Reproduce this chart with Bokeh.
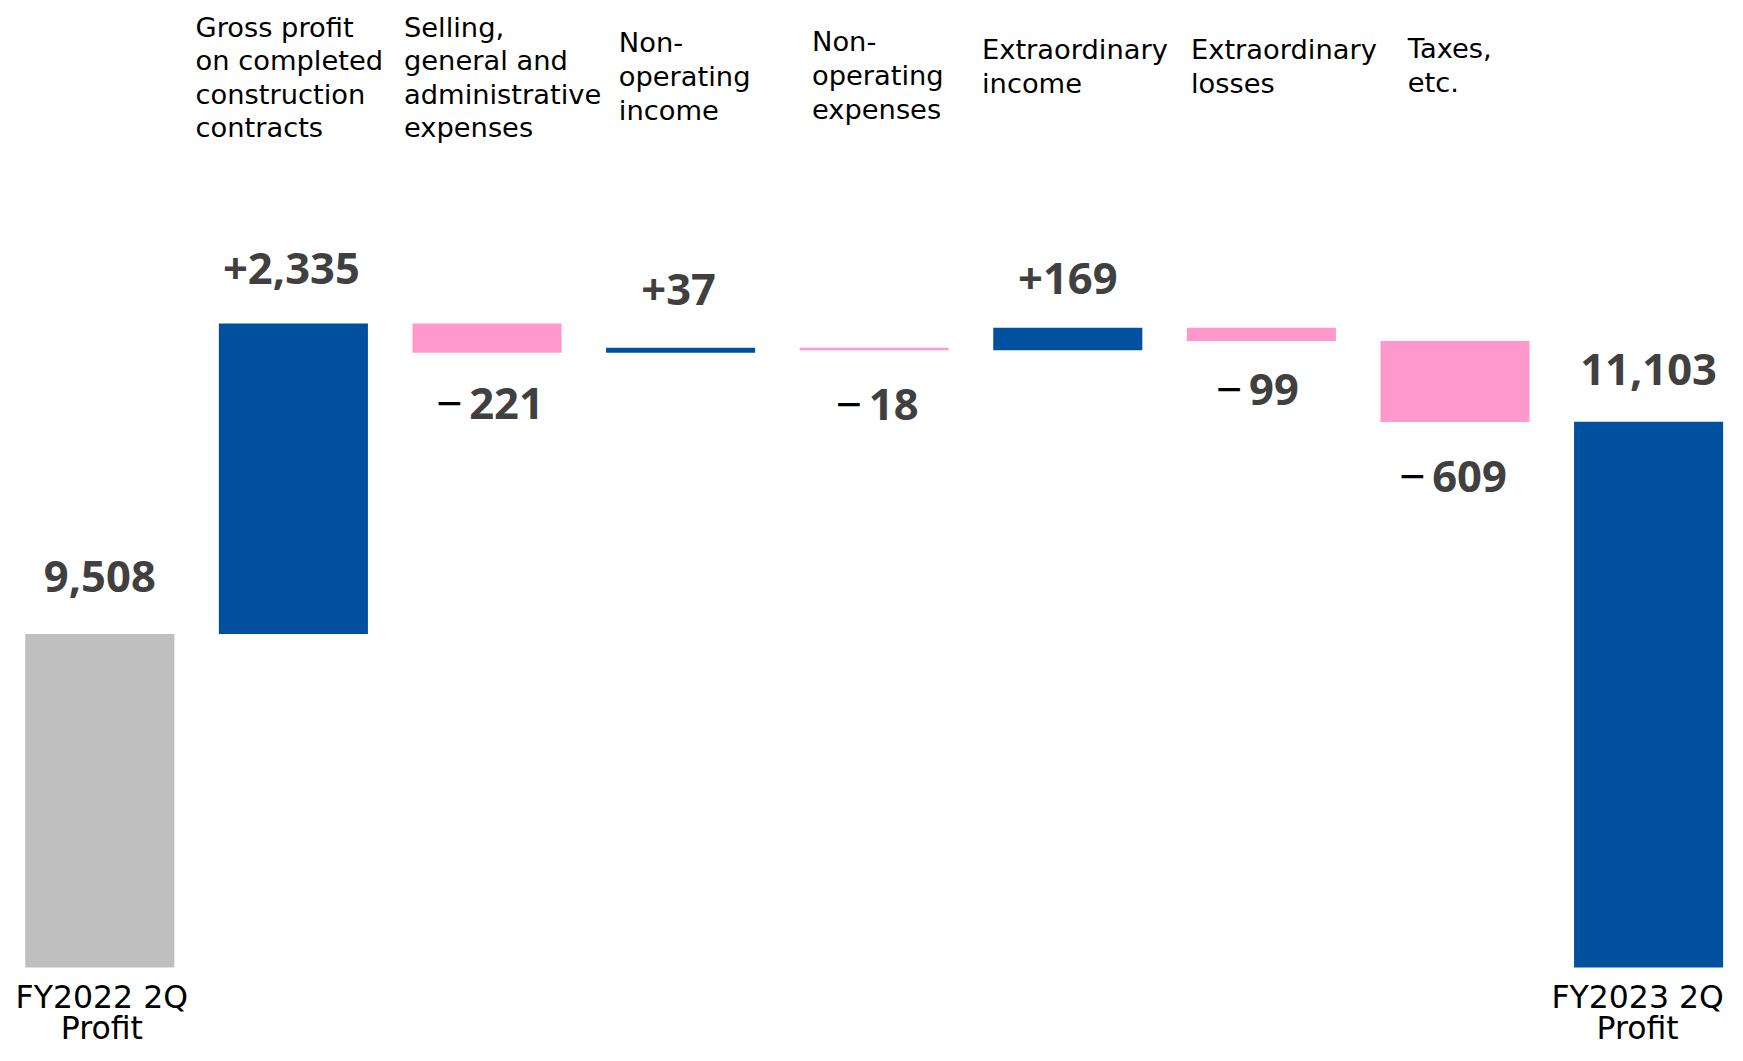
from bokeh.plotting import figure
from bokeh.models import ColumnDataSource, Range1d
from bokeh.embed import file_html
from bokeh.resources import INLINE
from bokeh.core.properties import value

# ---------------- data ----------------
categories = [
    "FY2022 2Q\nProfit",
    "Gross profit\non completed\nconstruction\ncontracts",
    "Selling,\ngeneral and\nadministrative\nexpenses",
    "Non-\noperating\nincome",
    "Non-\noperating\nexpenses",
    "Extraordinary\nincome",
    "Extraordinary\nlosses",
    "Taxes,\netc.",
    "FY2023 2Q\nProfit",
]
start_profit = 9508
changes = [2335, -221, 37, -18, 169, -99, -609]
end_profit = 11103
value_labels = ["9,508", "+2,335", "\u2212221", "+37", "\u221218", "+169", "\u221299", "\u2212609", "11,103"]
axis_floor = 7000

# ---------------- build waterfall ----------------
idx = list(range(len(categories)))
bottoms, tops, colors, label_y, is_neg = [], [], [], [], []
bottoms.append(axis_floor); tops.append(start_profit); colors.append("#BFBFBF")
label_y.append(start_profit); is_neg.append(False)
running = start_profit
for c in changes:
    lo, hi = min(running, running + c), max(running, running + c)
    bottoms.append(lo); tops.append(hi)
    colors.append("#0050A0" if c > 0 else "#FF99CC")
    label_y.append(hi if c > 0 else lo); is_neg.append(c < 0)
    running += c
bottoms.append(axis_floor); tops.append(end_profit); colors.append("#0050A0")
label_y.append(end_profit); is_neg.append(False)

W, H = 1727, 1045
X0, X1 = -0.5129, 8.4076
Y0, Y1 = 6413.5, 14270.7

p = figure(width=W, height=H, x_range=Range1d(X0, X1), y_range=Range1d(Y0, Y1),
           x_axis_type=None, y_axis_type=None, toolbar_location=None,
           output_backend="svg", min_border=0)
p.min_border_left = p.min_border_right = p.min_border_top = p.min_border_bottom = 0
p.outline_line_color = None
p.grid.visible = False
p.background_fill_color = "white"

bars = ColumnDataSource(dict(x=idx, bottom=bottoms, top=tops, color=colors))
p.vbar(x="x", width=0.77, bottom="bottom", top="top", fill_color="color",
       line_color=None, source=bars)

# value labels
VAL_FS = 43.5
DIGIT_W = 0.572 * VAL_FS
MINUS_W, MINUS_GAP = 23.0, 8.0
gaps = [59.5, 57, 48, 61, 52, 52, 46, 52.5, 55]
vx_off = [0, -2, 4, -2, 4, 0, -3, -1, 0]
v_off = [(g + 2.5) if n else (-g + 2.5) for g, n in zip(gaps, is_neg)]

pos = [i for i in idx if not is_neg[i]]
neg = [i for i in idx if is_neg[i]]
pos_src = ColumnDataSource(dict(x=[idx[i] for i in pos], y=[label_y[i] for i in pos],
                                text=[value_labels[i] for i in pos],
                                yo=[v_off[i] for i in pos], xo=[vx_off[i] for i in pos]))
p.text(x="x", y="y", text="text", x_offset="xo", y_offset="yo", source=pos_src,
       text_align="center", text_baseline="middle",
       text_font=value("Noto Sans"), text_font_style="bold",
       text_font_size=f"{VAL_FS}px", text_color="#404040")

neg_digits = [value_labels[i][1:] for i in neg]
neg_total = [MINUS_W + MINUS_GAP + len(d) * DIGIT_W for d in neg_digits]
neg_left = [vx_off[i] - t / 2 for i, t in zip(neg, neg_total)]
digit_src = ColumnDataSource(dict(x=[idx[i] for i in neg], y=[label_y[i] for i in neg],
                                  text=neg_digits, yo=[v_off[i] for i in neg],
                                  xo=[l + MINUS_W + MINUS_GAP for l in neg_left]))
p.text(x="x", y="y", text="text", x_offset="xo", y_offset="yo", source=digit_src,
       text_align="left", text_baseline="middle",
       text_font=value("Noto Sans"), text_font_style="bold",
       text_font_size=f"{VAL_FS}px", text_color="#404040")
minus_src = ColumnDataSource(dict(x=[idx[i] for i in neg], y=[label_y[i] for i in neg],
                                  text=[value_labels[i][0] for i in neg],
                                  yo=[v_off[i] for i in neg], xo=[l - 2 for l in neg_left]))
p.text(x="x", y="y", text="text", x_offset="xo", y_offset="yo", source=minus_src,
       text_align="left", text_baseline="middle",
       text_font=value("Noto Sans"), text_font_size="46px", text_color="#000000")

# top category labels
top_idx = idx[1:-1]
top_xoff = [-97.9, -83, -61.8, -62.2, -85.8, -70.4, -47.2]
top_yoff = [11, 11, 26.8, 25.8, 33.8, 33.8, 32.8]
tops_src = ColumnDataSource(dict(x=top_idx, y=[Y1] * len(top_idx),
                                 text=categories[1:-1], xo=top_xoff, yo=top_yoff))
p.text(x="x", y="y", text="text", x_offset="xo", y_offset="yo", source=tops_src,
       text_align="left", text_baseline="top",
       text_font=value("DejaVu Sans"), text_font_size="27.3px",
       text_line_height=1.084, text_color="#000000")

# bottom labels
bot_src = ColumnDataSource(dict(x=[idx[0], idx[-1]], y=[axis_floor, axis_floor],
                                text=[categories[0], categories[-1]],
                                xo=[2, -11], yo=[12, 12]))
p.text(x="x", y="y", text="text", x_offset="xo", y_offset="yo", source=bot_src,
       text_align="center", text_baseline="top",
       text_font=value("DejaVu Sans"), text_font_size="31.5px",
       text_line_height=0.85, text_color="#000000")

open("out.html", "w").write(file_html(p, INLINE))
